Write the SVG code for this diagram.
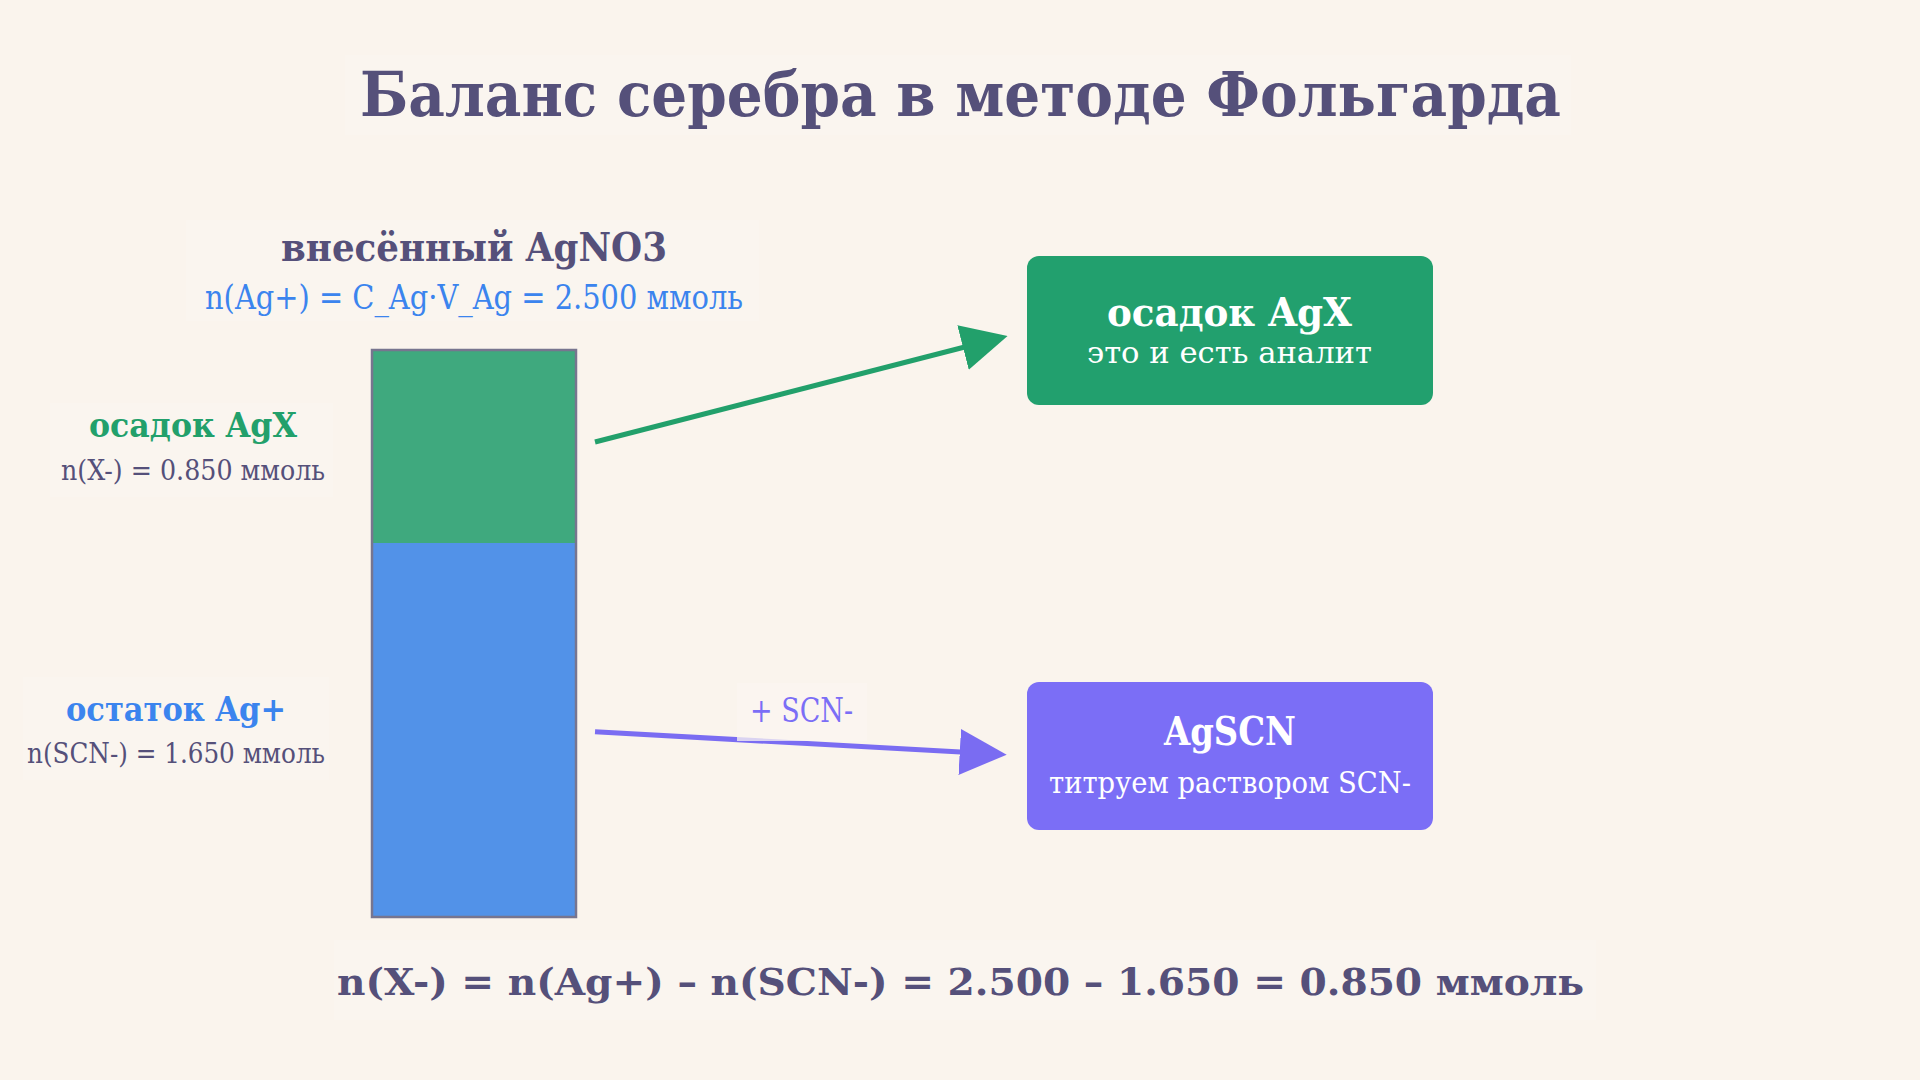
<svg xmlns="http://www.w3.org/2000/svg" width="1920" height="1080" viewBox="0 0 1920 1080">
  <defs>
    <style>
      text { font-family: "DejaVu Serif", "Liberation Serif", serif; }
      .b { font-weight: bold; }
      .dark { fill: #55507a; }
      .green { fill: #22a06b; }
      .blue { fill: #3b84ee; }
      .purple { fill: #7b6ef6; }
      .white { fill: #ffffff; }
      .lbg { fill: #ffffff; opacity: 0.12; }
      .box { stroke: none; }
      .conn { fill: none; stroke-width: 5; stroke-linecap: butt; }
    </style>
    <marker id="arrGreen" markerUnits="userSpaceOnUse" markerWidth="46" markerHeight="46" viewBox="0 0 46 46" refX="36" refY="23" orient="auto">
      <path d="M0,0 L46,23 L0,46 Z" fill="#22a06b"/>
    </marker>
    <marker id="arrPurple" markerUnits="userSpaceOnUse" markerWidth="47" markerHeight="46" viewBox="0 0 47 46" refX="37" refY="23" orient="auto">
      <path d="M0,0 L47,23 L0,46 Z" fill="#7a6cf2"/>
    </marker>
  </defs>

  <rect x="0" y="0" width="1920" height="1080" fill="#faf4ed"/>

  <g id="title">
    <rect class="lbg" x="345" y="55" width="1226" height="80"/>
    <text class="b dark" x="360" y="116" font-size="62" textLength="1201" lengthAdjust="spacingAndGlyphs">Баланс серебра в методе Фольгарда</text>
  </g>

  <g id="header-label">
    <rect class="lbg" x="186" y="220" width="573" height="101"/>
    <text class="b dark" x="281" y="261" font-size="40" textLength="386" lengthAdjust="spacingAndGlyphs">внесённый AgNO3</text>
    <text class="blue" x="205" y="309" font-size="33" textLength="538" lengthAdjust="spacingAndGlyphs">n(Ag+) = C_Ag·V_Ag = 2.500 ммоль</text>
  </g>

  <g id="bar">
    <rect x="372" y="350" width="204" height="193" fill="#3fa97e"/>
    <rect x="372" y="543" width="204" height="374" fill="#5292e8"/>
    <rect x="372" y="350" width="204" height="567" fill="none" stroke="#77758f" stroke-width="2.5"/>
  </g>

  <g id="label-precipitate">
    <rect class="lbg" x="50" y="403" width="283" height="94"/>
    <text class="b green" x="89" y="437" font-size="34" textLength="208" lengthAdjust="spacingAndGlyphs">осадок AgX</text>
    <text class="dark" x="61" y="480" font-size="28" textLength="264" lengthAdjust="spacingAndGlyphs">n(X-) = 0.850 ммоль</text>
  </g>

  <g id="label-residue">
    <rect class="lbg" x="23" y="677" width="306" height="103"/>
    <text class="b blue" x="66" y="721" font-size="34" textLength="220" lengthAdjust="spacingAndGlyphs">остаток Ag+</text>
    <text class="dark" x="27" y="763" font-size="28" textLength="298" lengthAdjust="spacingAndGlyphs">n(SCN-) = 1.650 ммоль</text>
  </g>

  <g id="connectors">
    <line class="conn" x1="595" y1="442" x2="997.9" y2="338.5" stroke="#22a06b" marker-end="url(#arrGreen)"/>
    <line class="conn" x1="595" y1="731.7" x2="996.7" y2="754.1" stroke="#7a6cf2" marker-end="url(#arrPurple)"/>
    <g id="connector-label">
      <rect x="737" y="683" width="130" height="58" fill="#fbf6f0" opacity="0.75"/>
      <text class="purple" x="750" y="722" font-size="33" textLength="103" lengthAdjust="spacingAndGlyphs">+ SCN-</text>
    </g>
  </g>

  <g id="node-agx">
    <rect class="box" x="1027" y="256" width="406" height="149" rx="12" fill="#22a06e"/>
    <text class="b white" x="1107" y="326" font-size="39" textLength="245" lengthAdjust="spacingAndGlyphs">осадок AgX</text>
    <text class="white" x="1087" y="363" font-size="29" textLength="285" lengthAdjust="spacingAndGlyphs">это и есть аналит</text>
  </g>

  <g id="node-agscn">
    <rect class="box" x="1027" y="682" width="406" height="148" rx="12" fill="#7b6ef6"/>
    <text class="b white" x="1164" y="745" font-size="39" textLength="132" lengthAdjust="spacingAndGlyphs">AgSCN</text>
    <text class="white" x="1049" y="793" font-size="29" textLength="362" lengthAdjust="spacingAndGlyphs">титруем раствором SCN-</text>
  </g>

  <g id="formula">
    <rect class="lbg" x="334" y="940" width="1262" height="80"/>
    <text class="b dark" x="337" y="995" font-size="38" textLength="1247" lengthAdjust="spacingAndGlyphs">n(X-) = n(Ag+) – n(SCN-) = 2.500 – 1.650 = 0.850 ммоль</text>
  </g>
</svg>
